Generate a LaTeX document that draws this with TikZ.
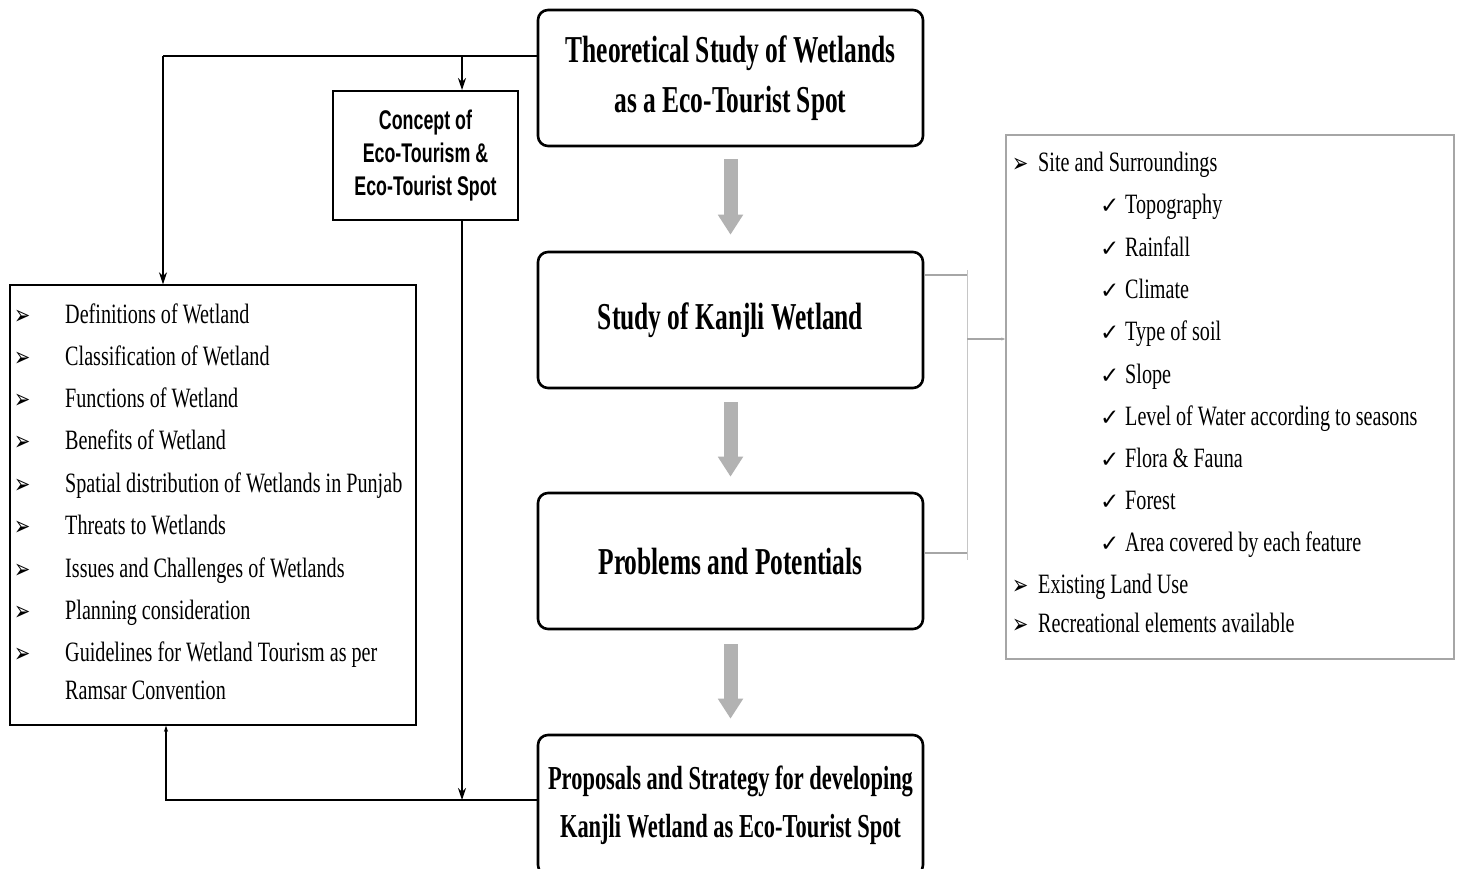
\documentclass[tikz,border=0pt]{standalone}
\usepackage{fontspec}
\usetikzlibrary{arrows.meta}
\setmainfont{Liberation Serif}
\newfontfamily\ttl[FakeStretch=0.67]{Liberation Serif}
\newfontfamily\lst[FakeStretch=0.72]{Liberation Serif}
\newfontfamily\cpt[FakeStretch=0.66]{Liberation Sans}
\newfontfamily\sym{DejaVu Sans}
\newcommand{\arw}{\raisebox{-1pt}{\scalebox{0.72}[1]{\sym\fontsize{27}{27}\selectfont ➢}}}
\newcommand{\bl}{\makebox[51pt][l]{\arw}}
\newcommand{\br}{\makebox[26pt][l]{\arw}}
\newcommand{\ck}{\makebox[25pt][l]{\sym\fontsize{23}{23}\selectfont ✓}}
\begin{document}
\begin{tikzpicture}[x=1pt,y=-1pt,
  mbox/.style={draw,line width=2.6pt,rounded corners=10pt,minimum width=385pt,minimum height=136pt,inner sep=0pt,align=center,font=\ttl\bfseries\fontsize{38}{50}\selectfont},
  cbox/.style={draw,line width=2pt,minimum width=185pt,minimum height=129pt,inner sep=0pt,align=center,font=\cpt\bfseries\fontsize{27}{33}\selectfont},
  lbox/.style={draw,line width=1.4pt,minimum width=406pt,minimum height=440pt,inner sep=0pt},
  rbox/.style={draw=gray!70,line width=1.4pt,minimum width=448pt,minimum height=524pt,inner sep=0pt},
  li/.style={anchor=base west,inner sep=0pt,font=\lst\fontsize{28}{34}\selectfont},
  garrow/.style={line width=14pt,draw=gray!60,-{Triangle[length=20pt,width=24pt]}},
  conn/.style={line width=1.3pt,-{Stealth[length=12pt,width=8pt]}},
  brk/.style={line width=1.2pt,draw=gray!70}]
\useasboundingbox (0,0) rectangle (1459,869);
\fill[white] (0,0) rectangle (1459,869);

% main boxes
\node[mbox] (t) at (730.5,78) {Theoretical Study of Wetlands\\as a Eco-Tourist Spot};
\node[mbox] (k) at (730.5,320) {Study of Kanjli Wetland};
\node[mbox] (p) at (730.5,561) {Problems and Potentials};
\node[mbox,minimum height=140pt,font=\ttl\bfseries\fontsize{33.5}{48}\selectfont] (q) at (730.5,805) {Proposals and Strategy for developing\\Kanjli Wetland as Eco-Tourist Spot};
\node[cbox] (c) at (425.5,155.5) {Concept of\\Eco-Tourism \&\\Eco-Tourist Spot};
\node[lbox] (L) at (213,505) {};
\node[rbox] (R) at (1230,397) {};

% left list
\node[li] (l1) at (14,323) {\bl Definitions of Wetland};
\node[li] (l2) at (14,365) {\bl Classification of Wetland};
\node[li] (l3) at (14,407) {\bl Functions of Wetland};
\node[li] (l4) at (14,449) {\bl Benefits of Wetland};
\node[li] (l5) at (14,492) {\bl Spatial distribution of Wetlands in Punjab};
\node[li] (l6) at (14,534) {\bl Threats to Wetlands};
\node[li] (l7) at (14,577) {\bl Issues and Challenges of Wetlands};
\node[li] (l8) at (14,619) {\bl Planning consideration};
\node[li] (l9) at (14,661) {\bl Guidelines for Wetland Tourism as per};
\node[li] (l10) at (65,699) {Ramsar Convention};

% right list
\node[li] (r1) at (1012,172) {\br Site and Surroundings};
\node[li] (r2) at (1100,214) {\ck Topography};
\node[li] (r3) at (1100,256) {\ck Rainfall};
\node[li] (r4) at (1100,298) {\ck Climate};
\node[li] (r5) at (1100,340) {\ck Type of soil};
\node[li] (r6) at (1100,383) {\ck Slope};
\node[li] (r7) at (1100,425) {\ck Level of Water according to seasons};
\node[li] (r8) at (1100,467) {\ck Flora \& Fauna};
\node[li] (r9) at (1100,509) {\ck Forest};
\node[li] (r10) at (1100,551) {\ck Area covered by each feature};
\node[li] (r11) at (1012,593) {\br Existing Land Use};
\node[li] (r12) at (1012,632) {\br Recreational elements available};

% gray flow arrows
\draw[garrow] ([yshift=-12pt]t.south) -- ([yshift=16pt]k.north);
\draw[garrow] ([yshift=-13pt]k.south) -- ([yshift=15pt]p.north);
\draw[garrow] ([yshift=-14pt]p.south) -- ([yshift=15pt]q.north);

% left connectors
\coordinate (tl) at ([yshift=22pt]t.west);
\coordinate (Ln) at ([xshift=-50pt]L.north);
\coordinate (cn) at ([xshift=36.5pt]c.north);
\coordinate (cs) at ([xshift=36.5pt]c.south);
\coordinate (qw) at ([yshift=5pt]q.west);
\coordinate (Ls) at ([xshift=-47pt]L.south);
\draw[line width=2.6pt] (tl) -- (tl -| Ln);
\draw[conn] (tl -| Ln) -- (Ln);
\draw[conn] (cn |- tl) -- (cn);
\draw[conn] (cs) -- (cs |- qw);
\draw[line width=1.3pt,-{Stealth[length=6pt,width=4pt]}] (qw) -| (Ls);

% right bracket
\coordinate (ka) at ([yshift=45pt]k.east);
\coordinate (pa) at ([yshift=8pt]p.east);
\coordinate (ra) at ([yshift=58pt]R.west);
\coordinate (kb) at ([xshift=43pt]ka);
\coordinate (pb) at ([xshift=43pt]pa);
\draw[brk] (ka) -- (kb);
\draw[brk] (pa) -- (pb);
\draw[brk,draw=gray!45] ([yshift=5pt]kb) -- ([yshift=-7pt]pb);
\draw[brk,-{Stealth[length=4pt,width=3pt]}] (kb |- ra) -- (ra);
\end{tikzpicture}
\end{document}
